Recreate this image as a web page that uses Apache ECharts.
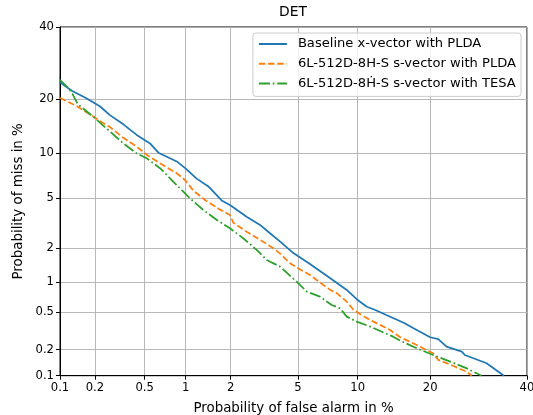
<!DOCTYPE html>
<html><head><meta charset="utf-8">
<script src="https://cdn.jsdelivr.net/npm/echarts@6/dist/echarts.min.js"></script>
<style>html,body{margin:0;padding:0;background:#fff}#c{width:533px;height:415px}</style>
</head><body><div id="c"></div>
<script>
const tickValues = [0.1, 0.2, 0.5, 1, 2, 5, 10, 20, 40];
const seriesNames = ['Baseline x-vector with PLDA', '6L-512D-8H-S s-vector with PLDA', '6L-512D-8Ḣ-S s-vector with TESA'];
const seriesColors = ['#1f77b4', '#ff7f0e', '#2ca02c'];

const baselineFA   = [0.1,0.127,0.171,0.221,0.266,0.341,0.434,0.549,0.634,0.863,1.0,1.19,1.43,1.75,1.98,2.52,3.04,3.48,3.98,4.72,5.80,7.08,8.88,9.89,11.0,12.0,13.4,15.8,17.3,20.0,21.4,22.9,25.8,26.4,30.9,34.7];
const baselineMiss = [24.1,22.0,20.2,18.4,16.6,14.8,12.9,11.5,10.1,8.9,8.0,6.85,6.05,4.8,4.44,3.62,3.12,2.67,2.28,1.82,1.46,1.14,0.836,0.68,0.572,0.53,0.471,0.392,0.342,0.274,0.262,0.216,0.190,0.174,0.140,0.1];

const pldaFA   = [0.1,0.138,0.180,0.232,0.266,0.341,0.434,0.518,0.652,0.863,0.988,1.13,1.39,1.71,1.98,2.08,2.52,3.04,3.64,3.98,4.52,5.03,5.80,6.29,7.35,7.94,8.88,9.5,10.1,11.4,13.9,15.3,17.8,20.5,21.4,24.2,26.8,27.8];
const pldaMiss = [20.3,18.6,16.8,15.1,14.3,12.4,11.0,9.8,8.66,7.45,6.71,5.65,4.75,4.1,3.73,3.25,2.75,2.36,2.0,1.8,1.48,1.33,1.16,1.04,0.84,0.78,0.642,0.54,0.49,0.418,0.328,0.274,0.225,0.182,0.153,0.130,0.111,0.1];

const tesaFA   = [0.1,0.121,0.129,0.143,0.168,0.204,0.266,0.341,0.434,0.518,0.652,0.772,0.91,1.07,1.32,1.63,1.98,2.40,2.90,3.33,3.98,5.03,5.58,6.54,7.50,8.24,8.88,9.89,11.4,14.3,15.3,17.8,20.5,23.6,26.8,29.2,29.8];
const tesaMiss = [24.7,22.4,21.2,18.9,17.5,15.8,13.5,11.5,10.0,9.32,8.04,6.89,5.87,4.98,4.08,3.41,2.93,2.43,1.94,1.58,1.38,0.968,0.805,0.72,0.595,0.551,0.453,0.402,0.356,0.278,0.251,0.207,0.174,0.146,0.122,0.104,0.1];

function probit(p){
  const a=[-3.969683028665376e+01,2.209460984245205e+02,-2.759285104469687e+02,1.383577518672690e+02,-3.066479806614716e+01,2.506628277459239e+00];
  const b=[-5.447609879822406e+01,1.615858368580409e+02,-1.556989798598866e+02,6.680131188771972e+01,-1.328068155288572e+01];
  const c=[-7.784894002430293e-03,-3.223964580411365e-01,-2.400758277161838e+00,-2.549732539343734e+00,4.374664141464968e+00,2.938163982698783e+00];
  const d=[7.784695709041462e-03,3.224671290700398e-01,2.445134137142996e+00,3.754408661907416e+00];
  const pl=0.02425, ph=1-pl; let q,r;
  if(p<pl){q=Math.sqrt(-2*Math.log(p));return (((((c[0]*q+c[1])*q+c[2])*q+c[3])*q+c[4])*q+c[5])/((((d[0]*q+d[1])*q+d[2])*q+d[3])*q+1);}
  if(p<=ph){q=p-0.5;r=q*q;return (((((a[0]*r+a[1])*r+a[2])*r+a[3])*r+a[4])*r+a[5])*q/(((((b[0]*r+b[1])*r+b[2])*r+b[3])*r+b[4])*r+1);}
  q=Math.sqrt(-2*Math.log(1-p));return -(((((c[0]*q+c[1])*q+c[2])*q+c[3])*q+c[4])*q+c[5])/((((d[0]*q+d[1])*q+d[2])*q+d[3])*q+1);
}

const tickPos = tickValues.map(v => probit(v / 100));
const lo = tickPos[0], hi = tickPos[tickPos.length - 1];
function fmt(val){
  let best = 0;
  for (let i = 1; i < tickPos.length; i++) if (Math.abs(tickPos[i]-val) < Math.abs(tickPos[best]-val)) best = i;
  return String(tickValues[best]);
}
function toPairs(fa, miss){ return fa.map((v,i) => [probit(v/100), probit(miss[i]/100)]); }

const FONT = 'DejaVu Sans';
function axis(name, gap){
  return {
    type:'value', min:lo, max:hi, name:name, nameLocation:'middle', nameGap:gap,
    nameTextStyle:{color:'#000', fontSize:13.4, fontFamily:FONT},
    axisLine:{show:true, onZero:false, lineStyle:{color:'#000', width:1}},
    axisTick:{show:true, inside:false, length:4, customValues:tickPos, lineStyle:{color:'#000', width:1}},
    axisLabel:{show:true, customValues:tickPos, formatter:fmt, margin:6, color:'#000', fontSize:11.6, fontFamily:FONT},
    splitLine:{show:true, lineStyle:{color:'#b0b0b0', width:0.9}}
  };
}

const chart = echarts.init(document.getElementById('c'), null, {renderer:'canvas'});
const dataSets = [toPairs(baselineFA, baselineMiss), toPairs(pldaFA, pldaMiss), toPairs(tesaFA, tesaMiss)];
const dashes = ['solid', [6.4, 2.8], [11.1, 2.8, 1.7, 2.8]];
chart.setOption({
  animation:false,
  backgroundColor:'#fff',
  textStyle:{fontFamily:FONT},
  title:{text:'DET', left:279, top:5, padding:0, textStyle:{color:'#000', fontSize:13.9, fontWeight:'normal', fontFamily:FONT}},
  grid:{left:60, top:27, right:6, bottom:39.3, show:true, borderColor:'#000', borderWidth:1, backgroundColor:'transparent',
    containLabel:false, outerBoundsMode:'none'},
  xAxis: axis('Probability of false alarm in %', 26.5),
  yAxis: axis('Probability of miss in %', 35),
  legend:{orient:'vertical', right:12, top:33, itemWidth:28, itemHeight:14, itemGap:5.7,
    padding:[4,5,6,5], backgroundColor:'rgba(255,255,255,0.8)', borderColor:'#cccccc', borderWidth:1, borderRadius:3,
    itemStyle:{color:'rgba(0,0,0,0)', borderColor:'rgba(0,0,0,0)', borderWidth:0, opacity:0},
    textStyle:{fontSize:13.1, lineHeight:14, color:'#000', fontFamily:FONT, padding:[0,0,0,6]},
    data:seriesNames},
  series: seriesNames.map((n,i) => ({
    name:n, type:'line', data:dataSets[i], showSymbol:false, symbol:'none', clip:true,
    color:seriesColors[i],
    lineStyle:{color:seriesColors[i], width:1.75, type:dashes[i]},
    z:2+i
  }))
});
</script></body></html>
